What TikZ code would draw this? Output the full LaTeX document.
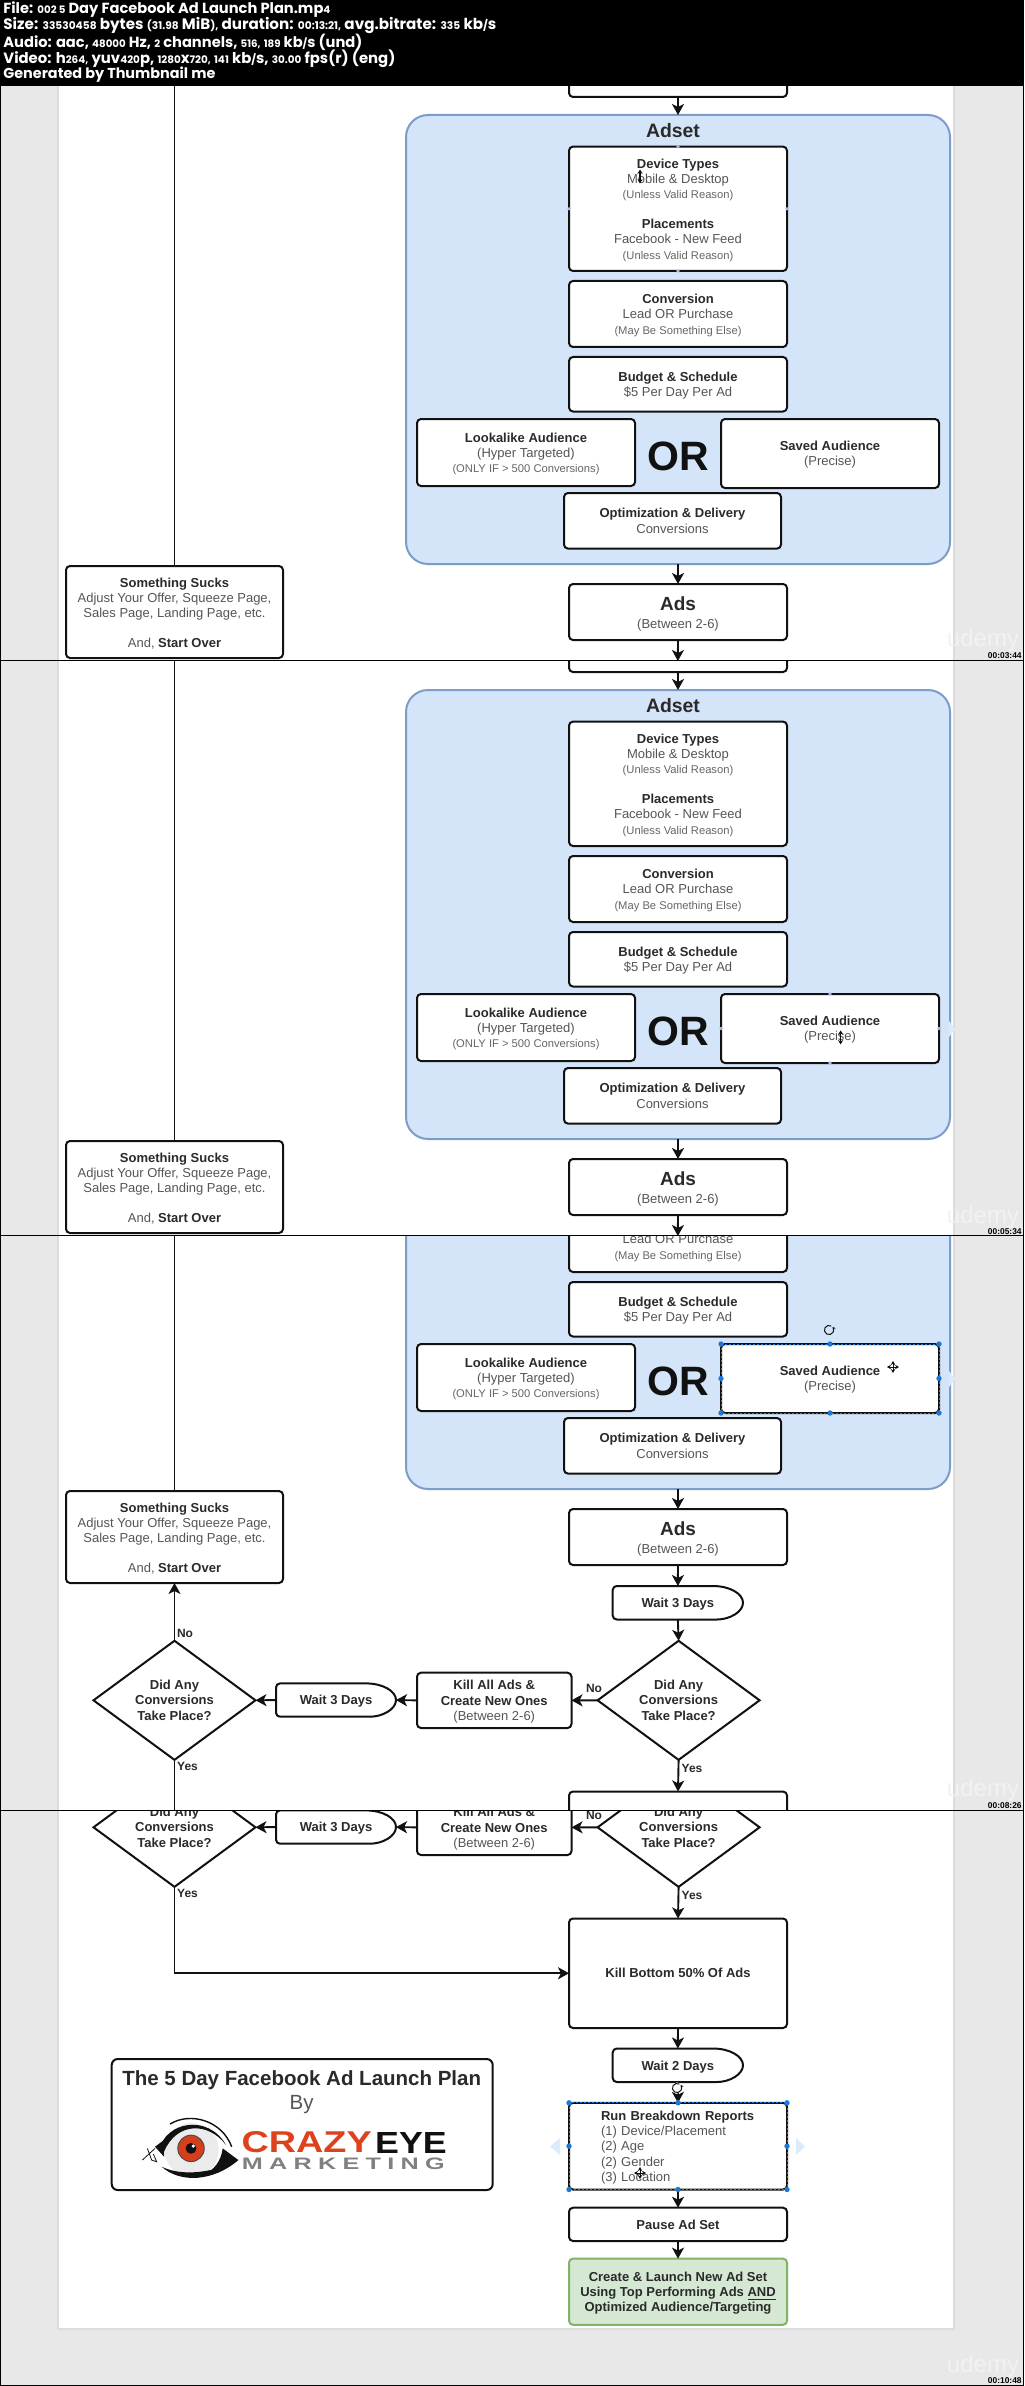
\documentclass[tikz,border=0pt]{standalone}
\usepackage{fontspec}
\usepackage{graphicx}
\setmainfont{Liberation Sans}
\newfontfamily\hdrfont{Poppins}
\usetikzlibrary{arrows.meta,shapes.geometric}
\definecolor{ink}{HTML}{111111}
\definecolor{tbold}{HTML}{2A2A2A}
\definecolor{treg}{HTML}{555555}
\definecolor{tsmall}{HTML}{666666}
\definecolor{panelfill}{HTML}{D5E5F9}
\definecolor{panelline}{HTML}{7C9CC9}
\definecolor{greenfill}{HTML}{D5E8D4}
\definecolor{greenline}{HTML}{82B366}
\definecolor{pagebg}{HTML}{E8E8E8}
\definecolor{pageedge}{HTML}{DCDCDC}
\definecolor{hblue}{HTML}{1E78D8}
\definecolor{ghost}{HTML}{DCEBFA}
\definecolor{palehandle}{HTML}{AEB8E4}
\definecolor{wmark}{HTML}{F2F2F2}
\definecolor{logoorange}{HTML}{DE421C}
\definecolor{irisred}{HTML}{D63E1C}
\tikzset{
  basefont/.style={font=\fontsize{6.5}{7.7}\selectfont},
  boxn/.style={draw=ink,line width=1pt,rounded corners=2pt,fill=white,align=center,inner sep=0pt,outer sep=0pt,basefont,text=treg},
  dia/.style={shape=diamond,draw=ink,line width=1pt,fill=white,align=center,inner sep=0pt,outer sep=0pt,font=\fontsize{6.5}{7.7}\selectfont\bfseries,text=tbold},
  arrowline/.style={draw=ink,line width=.95pt,-{Stealth[length=5.5pt,width=6pt,inset=1.5pt]}},
  plainline/.style={draw=ink,line width=.95pt},
  lbl/.style={basefont,text=tbold,inner sep=0pt,font=\fontsize{6}{7}\selectfont\bfseries},
  hdrline/.style={anchor=west,inner sep=0pt,text=white},
  selline/.style={draw=hblue,line width=.45pt,dash pattern=on 1pt off 1pt},
  wm/.style={text=wmark,inner sep=0pt,font=\fontsize{12}{13}\selectfont},
  tc/.style={text=black,inner sep=0pt,anchor=east,font=\fontsize{4.2}{5}\selectfont\bfseries}
}
\newcommand{\tf}{\rule{0pt}{6.1pt}}
\newcommand{\bt}[1]{{\bfseries\color{tbold}#1}}
\newcommand{\st}[1]{{\fontsize{5.6}{7.7}\selectfont\color{tsmall}#1}}
\newcommand{\pbox}[7][]{\node[boxn,minimum width={(#5-#3)*0.5pt},minimum height={(#6-#4)*0.5pt},#1] (#2) at ({(#3+#5)/2},{(#4+#6)/2}) {#7};}
\newcommand{\delaybox}[6]{%
  \draw[draw=ink,line width=1pt,fill=white,rounded corners=2pt,line join=round]
    ({#4-30},#3) -- (#2,#3) -- (#2,#5) -- ({#4-30},#5) [sharp corners]
    .. controls ({#4-13.5},#5) and (#4,{#5-(#5-#3)*.225}) .. (#4,{(#3+#5)/2})
    .. controls (#4,{#3+(#5-#3)*.225}) and ({#4-13.5},#3) .. ({#4-30},#3) -- cycle;
  \node[basefont,inner sep=0pt,outer sep=0pt,minimum width={(#4-#2)*0.5pt},minimum height={(#5-#3)*0.5pt},text=tbold] (#1) at ({(#2+#4)/2},{(#3+#5)/2}) {\tf\bfseries #6};}
\newcommand{\hdl}[1]{\fill[hblue] (#1) circle[radius=1.35pt];}
\newcommand{\phdl}[1]{\fill[palehandle] (#1) circle[radius=.9pt];}
\newcommand{\mvcur}[2]{%
  \draw[line width=.5pt,draw=ink,{Stealth[length=2pt,width=2.2pt]}-{Stealth[length=2pt,width=2.2pt]}] ({#1-6},#2) -- ({#1+6},#2);
  \draw[line width=.5pt,draw=ink,{Stealth[length=2pt,width=2.2pt]}-{Stealth[length=2pt,width=2.2pt]}] (#1,{#2-6}) -- (#1,{#2+6});}
\newcommand{\vcur}[2]{%
  \draw[line width=.6pt,draw=ink,{Stealth[length=2.2pt,width=2.6pt]}-{Stealth[length=2.2pt,width=2.6pt]}] (#1,{#2-7}) -- (#1,{#2+7});}
\newcommand{\rotic}[2]{%
  \draw[line width=.5pt,draw=ink,-{Stealth[length=1.5pt,width=1.8pt]}] ([shift={(#1,#2)}]60:2.3pt) arc[start angle=60,end angle=400,radius=2.3pt];}
% upper part of the plan, document coordinates
\newcommand{\panelTop}{%
  \pbox{topbox}{569}{950}{787}{1022}{}
  \node[draw=panelline,fill=panelfill,line width=1pt,rounded corners=11pt,inner sep=0pt,outer sep=0pt,minimum width=272pt,minimum height=224.5pt] (adset) at (678,1264.5) {};
  \draw[arrowline] (topbox.south) -- (adset.north);}
\newcommand{\panelOnly}{%
  \node[draw=panelline,fill=panelfill,line width=1pt,rounded corners=11pt,inner sep=0pt,outer sep=0pt,minimum width=272pt,minimum height=224.5pt] (adset) at (678,1264.5) {};}
\newcommand{\deviceBlock}{%
  \node[inner sep=0pt,text=tbold,font=\fontsize{9.7}{11}\selectfont\bfseries] (adsettitle) at (673,1055.5) {Adset};
  \pbox{device}{569}{1071.6}{787}{1196}{\tf\bt{Device Types}\\Mobile \& Desktop\\\st{(Unless Valid Reason)}\\[7.1pt]\bt{Placements}\\Facebook - New Feed\\\st{(Unless Valid Reason)}}}
\newcommand{\upperRest}[1]{%
  \pbox{conv}{569}{1206}{787}{1272}{\tf\bt{Conversion}\\Lead OR Purchase\\\st{(May Be Something Else)}}
  \pbox{budget}{569}{1282}{787}{1336.5}{\tf\bt{Budget \& Schedule}\\\$5 Per Day Per Ad}
  \pbox{look}{417}{1344}{635}{1411}{\tf\bt{Lookalike Audience}\\(Hyper Targeted)\\\st{(ONLY IF > 500 Conversions)}}
  \node[inner sep=0pt,text=ink,font=\fontsize{20.5}{22}\selectfont\bfseries] (ortext) at (678,1381.6) {OR};
  \pbox{saved}{721}{1344}{939}{1413}{\tf\bt{Saved Audience}\\(Precise)}
  \pbox{opt}{564}{1418}{781}{1473.6}{\bt{Optimization \& Delivery}\\Conversions}
  \pbox{ads}{569}{1509}{787}{1565}{\rule{0pt}{8.8pt}{\fontsize{9.5}{11}\selectfont\bfseries\color{tbold}Ads}\\[1.3pt](Between 2-6)}
  \pbox{sucks}{66}{1491}{283}{1583}{\tf\bt{Something Sucks}\\Adjust Your Offer, Squeeze Page,\\Sales Page, Landing Page, etc.\\[7.1pt]And, \bt{Start Over}}
  \coordinate (upline) at (174.5,1000);
  \draw[plainline] (sucks.north) -- (upline);
  \draw[arrowline] (adset.south) -- (ads.north);
  \delaybox{waita}{612.7}{1586}{743}{1619.5}{#1}
  \draw[arrowline] (ads.south) -- (waita.north);}
\newcommand{\lowerRow}[1]{%
  \node[dia,minimum width=81pt,minimum height=59.3pt] (dright) at (678.6,1700.3) {Did Any\\Conversions\\Take Place?};
  \pbox{killall}{417}{1672.7}{571.5}{1728}{\tf\bt{Kill All Ads \&}\\\bt{Create New Ones}\\(Between 2-6)}
  \delaybox{waitb}{276}{1683.4}{396}{1716.7}{Wait 3 Days}
  \node[dia,minimum width=81pt,minimum height=59.3pt] (dleft) at (174.5,1700.3) {Did Any\\Conversions\\Take Place?};
  \pbox{killbottom}{569}{1791.5}{787}{1901}{\bt{#1}}
  \draw[arrowline] (dright.west) -- (killall.east);
  \draw[arrowline] (killall.west) -- (waitb.east);
  \draw[arrowline] (waitb.west) -- (dleft.east);
  \draw[arrowline] (dright.south) -- (killbottom.north);
  \draw[arrowline] (dleft.south) |- (killbottom.west);
  \node[lbl] (noa) at (594,1688.4) {No};
  \node[lbl] (yesa) at (692,1768) {Yes};
  \node[lbl] (yesb) at (187.5,1766.5) {Yes};}
\begin{document}
\begin{tikzpicture}[x=0.5pt,y=-0.5pt]
\useasboundingbox (0,0) rectangle (1024,2386);
\fill[pagebg] (0,0) rectangle (1024,2386);
\fill[white] (58,86) rectangle (954,2329);
\draw[pageedge,line width=.8pt] (58,86) -- (58,2329) -- (954,2329) -- (954,86);
% ---------- frame 1
\begin{scope}
\clip (0,86) rectangle (1024,660);
\begin{scope}[shift={(0,-925)}]
\panelTop
\deviceBlock
\upperRest{}
\foreach \a in {north,south,east,west}{\phdl{device.\a}}
\vcur{640}{1101.5}
\end{scope}
\end{scope}
% ---------- frame 2
\begin{scope}
\clip (0,660) rectangle (1024,1235);
\begin{scope}[shift={(0,-350)}]
\panelTop
\deviceBlock
\upperRest{}
\foreach \a in {north,south,east,west}{\phdl{saved.\a}}
\fill[ghost] (949,1371) -- (955,1379) -- (949,1387) -- cycle;
\vcur{840.6}{1387.4}
\end{scope}
\end{scope}
% ---------- frame 3
\begin{scope}
\clip (0,1235) rectangle (1024,1810);
\panelOnly
\upperRest{Wait 3 Days}
\fill[ghost] (949,1371) -- (955,1379) -- (949,1387) -- cycle;
\draw[selline] (saved.north west) rectangle (saved.south east);
\foreach \a in {north west,north,north east,east,south east,south,south west,west}{\hdl{saved.\a}}
\rotic{829}{1330}
\mvcur{893}{1367}
\lowerRow{}
\draw[arrowline] (waita.south) -- (dright.north);
\draw[arrowline] (dleft.north) -- (sucks.south);
\node[lbl] (nob) at (185,1633) {No};
\end{scope}
% ---------- frame 4
\begin{scope}
\clip (0,1810) rectangle (1024,2386);
\begin{scope}[shift={(0,127)}]
\lowerRow{Kill Bottom 50\% Of Ads}
\delaybox{waitc}{612.7}{1921.5}{743}{1955}{Wait 2 Days}
\pbox[align=left,text width=77pt,inner xsep=16pt]{breakdown}{569}{1975.8}{787}{2062.5}{\tf\bt{Run Breakdown Reports}\\(1) Device/Placement\\(2) Age\\(2) Gender\\(3) Location}
\pbox{pausebox}{569}{2080.7}{787}{2114}{\bt{Pause Ad Set}}
\pbox[draw=greenline,fill=greenfill]{launch}{569}{2131.6}{787}{2197.8}{\tf\bt{Create \& Launch New Ad Set}\\\bt{Using Top Performing Ads \underline{AND}}\\\bt{Optimized Audience/Targeting}}
\draw[arrowline] (killbottom.south) -- (waitc.north);
\draw[arrowline] (waitc.south) -- (breakdown.north);
\draw[arrowline] (breakdown.south) -- (pausebox.north);
\draw[arrowline] (pausebox.south) -- (launch.north);
\draw[selline] (breakdown.north west) rectangle (breakdown.south east);
\foreach \a in {north west,north,north east,east,south east,south,south west,west}{\hdl{breakdown.\a}}
\fill[ghost] (560,2011) -- (550,2019.5) -- (560,2028) -- cycle;
\fill[ghost] (796,2011) -- (805,2019.5) -- (796,2028) -- cycle;
\fill[white] (677,1961) circle[radius=2.8pt];
\rotic{677}{1961}
\mvcur{640}{2046}
\end{scope}
\end{scope}
% ---------- logo box
\node[draw=ink,line width=1pt,rounded corners=3pt,fill=white,inner sep=0pt,outer sep=0pt,minimum width=190.5pt,minimum height=65.5pt] (logobox) at (302.2,2124.5) {};
\node[inner sep=0pt,text=tbold,font=\fontsize{10.25}{12}\selectfont\bfseries] (logotitle) at (301.7,2080.5) {The 5 Day Facebook Ad Launch Plan};
\node[inner sep=0pt,text=tbold!80,font=\fontsize{10.25}{12}\selectfont] (logoby) at (301.7,2104.5) {By};
\node[inner sep=0pt,text=logoorange] (logocrazy) at (306.7,2142.5) {\resizebox{65pt}{10.5pt}{\bfseries CRAZY}};
\node[inner sep=0pt,text=ink] (logoeye) at (411,2142.5) {\resizebox{35.8pt}{10.5pt}{\bfseries EYE}};
\node[inner sep=0pt,text=black!50] (logomkt) at (343.3,2164) {\resizebox{101.5pt}{5.8pt}{\addfontfeature{LetterSpace=25}\bfseries MARKETING}};
\begin{scope}[shift={(90,1970)},x=0.1667pt,y=-0.1667pt]
\fill[black!8] (305,540) circle[radius=13.5pt];
\fill[ink] (208,540) .. controls (225,455) and (355,430) .. (408,525) .. controls (355,455) and (260,455) .. (222,545) -- cycle;
\draw[ink,line width=.7pt] (240,462) .. controls (300,425) and (395,450) .. (425,530);
\fill[ink] (215,590) .. controls (270,640) and (370,635) .. (445,570) .. controls (380,605) and (280,622) .. (215,590) -- cycle;
\fill[ink] (445,570) -- (398,535) .. controls (393,575) and (370,600) .. (345,612) .. controls (385,605) and (415,590) .. (445,570) -- cycle;
\fill[ink] (195,530) -- (222,510) -- (222,560) -- cycle;
\draw[ink,line width=.4pt] (157,570) -- (195,535) (172,535) -- (185,570) -- (200,575) -- (190,552);
\fill[irisred] (303,535) circle[radius=6.6pt];
\draw[black!70,line width=.5pt] (303,535) circle[radius=6.6pt];
\fill[ink] (303,535) circle[radius=2.7pt];
\fill[white] (310,528) circle[radius=.9pt];
\end{scope}
% ---------- video watermarks and time codes
\node[wm] (wm1) at (983,640) {udemy};
\node[wm] (wm2) at (983,1217) {udemy};
\node[wm] (wm3) at (983,1790) {udemy};
\node[wm] (wm4) at (983,2366.6) {udemy};
\node[tc] (tc1) at (1022,656) {00:03:44};
\node[tc] (tc2) at (1022,1232) {00:05:34};
\node[tc] (tc3) at (1022,1805.5) {00:08:26};
\node[tc] (tc4) at (1022,2380.5) {00:10:48};
% ---------- dividers and outer edge
\draw[black,line width=.5pt] (0,660.5) -- (1024,660.5);
\draw[black,line width=.5pt] (0,1235.5) -- (1024,1235.5);
\draw[black,line width=.5pt] (0,1810.5) -- (1024,1810.5);
\draw[black,line width=.5pt] (0.5,86) -- (0.5,2385.5) -- (1023.5,2385.5) -- (1023.5,86);
% ---------- header
\fill[black] (0,0) rectangle (1024,86);
\newcommand{\sd}[1]{{\fontsize{7}{8}\selectfont #1}}
\node[hdrline] (h1) at (3,9.5) {\resizebox{163.5pt}{!}{\hdrfont\bfseries File: \sd{002 5} Day Facebook Ad Launch Plan.mp\sd{4}}};
\node[hdrline] (h2) at (3,25.5) {\resizebox{246.5pt}{!}{\hdrfont\bfseries Size: \sd{33530458} bytes \sd{(31.98} MiB\sd{),} duration: \sd{00:13:21,} avg.bitrate: \sd{335} kb\sd{/}s}};
\node[hdrline] (h3) at (3,42.5) {\resizebox{179.5pt}{!}{\hdrfont\bfseries Audio: aac, \sd{48000} Hz, \sd{2} channels, \sd{516,} \sd{189} kb\sd{/}s (und)}};
\node[hdrline] (h4) at (3,59) {\resizebox{196pt}{!}{\hdrfont\bfseries Video: h\sd{264,} yuv\sd{420}p, \sd{1280}x\sd{720,} \sd{141} kb\sd{/}s, \sd{30.00} fps(r) (eng)}};
\node[hdrline] (h5) at (3,75) {\resizebox{106pt}{!}{\hdrfont\bfseries Generated by Thumbnail me}};
\end{tikzpicture}
\end{document}
